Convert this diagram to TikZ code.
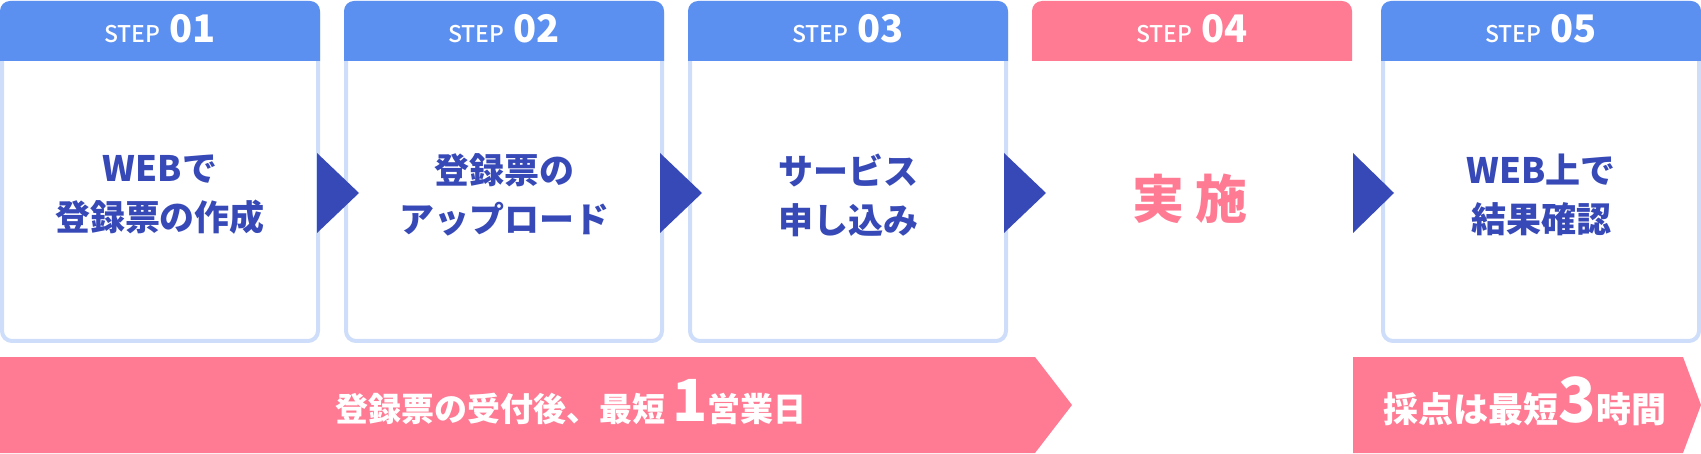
\documentclass[tikz,border=0pt]{standalone}
\usepackage{fontspec}
\setmainfont{Noto Sans CJK JP}
\newfontfamily\stepfont{Noto Sans CJK JP}[UprightFont={* Medium}]
\usepackage{xcolor}

\definecolor{headblue}{RGB}{92,144,240}
\definecolor{pinkc}{RGB}{255,122,147}
\definecolor{navy}{RGB}{55,73,183}
\definecolor{lineblue}{RGB}{205,221,250}

\begin{document}
\begin{tikzpicture}[x=1pt, y=1pt,
    stepbox/.style={draw=lineblue, line width=4pt, rounded corners=10pt, minimum width=316pt, minimum height=338pt, inner sep=0pt},
    headlabel/.style={text=white, inner sep=0pt, anchor=base},
    bodylabel/.style={text=navy, align=center, inner sep=0pt, font=\fontsize{35}{49}\selectfont\bfseries},
    bandlabel/.style={text=white, inner sep=0pt, anchor=base, font=\bfseries}]
    \useasboundingbox (0,0) rectangle (1701,453);
    % step boxes
    \node[stepbox] (s1) at (160,281) {};
    \node[stepbox] (s2) at (504,281) {};
    \node[stepbox] (s3) at (848,281) {};
    \node[stepbox, draw=none] (s4) at (1192,281) {};
    \node[stepbox] (s5) at (1541,281) {};
    % headers
    \fill[headblue, rounded corners=10pt] (0,392) |- (160,452) -| (320,392);
    \fill[headblue, rounded corners=10pt] (344,392) |- (504,452) -| (664,392);
    \fill[headblue, rounded corners=10pt] (688,392) |- (848,452) -| (1008,392);
    \fill[pinkc, rounded corners=10pt] (1032,392) |- (1192,452) -| (1352,392);
    \fill[headblue, rounded corners=10pt] (1381,392) |- (1541,452) -| (1701,392);
    \node[headlabel] (h1) at (160,410) {\stepfont\fontsize{23}{23}\selectfont STEP\hspace{9pt}\bfseries\fontsize{38}{38}\selectfont 01};
    \node[headlabel] (h2) at (504,410) {\stepfont\fontsize{23}{23}\selectfont STEP\hspace{9pt}\bfseries\fontsize{38}{38}\selectfont 02};
    \node[headlabel] (h3) at (848,410) {\stepfont\fontsize{23}{23}\selectfont STEP\hspace{9pt}\bfseries\fontsize{38}{38}\selectfont 03};
    \node[headlabel] (h4) at (1192,410) {\stepfont\fontsize{23}{23}\selectfont STEP\hspace{9pt}\bfseries\fontsize{38}{38}\selectfont 04};
    \node[headlabel] (h5) at (1541,410) {\stepfont\fontsize{23}{23}\selectfont STEP\hspace{9pt}\bfseries\fontsize{38}{38}\selectfont 05};
    % step texts
    \node[bodylabel] (t1) at (160,258) {WEBで\\登録票の作成};
    \node[bodylabel] (t2) at (504,258) {登録票の\\アップロード};
    \node[bodylabel] (t3) at (848,258) {サービス\\申し込み};
    \node[text=pinkc, inner sep=0pt, anchor=base, font=\fontsize{52}{52}\selectfont\bfseries] (t4) at (1190,234) {実\hspace{12pt}施};
    \node[bodylabel] (t5) at (1541,258) {WEB上で\\結果確認};
    % arrows between steps
    \fill[navy] (317,300) -- (359,260) -- (317,220) -- cycle;
    \fill[navy] (660,300) -- (702,260) -- (660,220) -- cycle;
    \fill[navy] (1004,300) -- (1046,260) -- (1004,220) -- cycle;
    \fill[navy] (1353,300) -- (1394,260) -- (1353,220) -- cycle;
    % bands
    \fill[pinkc] (0,96) -- (1035,96) -- (1072,48) -- (1035,0) -- (0,0) -- cycle;
    \fill[pinkc] (1353,96) -- (1683,96) -- (1701,48) -- (1683,0) -- (1353,0) -- cycle;
    \node[bandlabel] (r1) at (571,32) {\fontsize{33}{33}\selectfont 登録票の受付後、最短\hspace{7pt}{\fontsize{58}{58}\selectfont 1}営業日};
    \node[bandlabel] (r2) at (1525,31) {\fontsize{35}{35}\selectfont 採点は最短{\fontsize{62}{62}\selectfont 3}時間};
\end{tikzpicture}
\end{document}
